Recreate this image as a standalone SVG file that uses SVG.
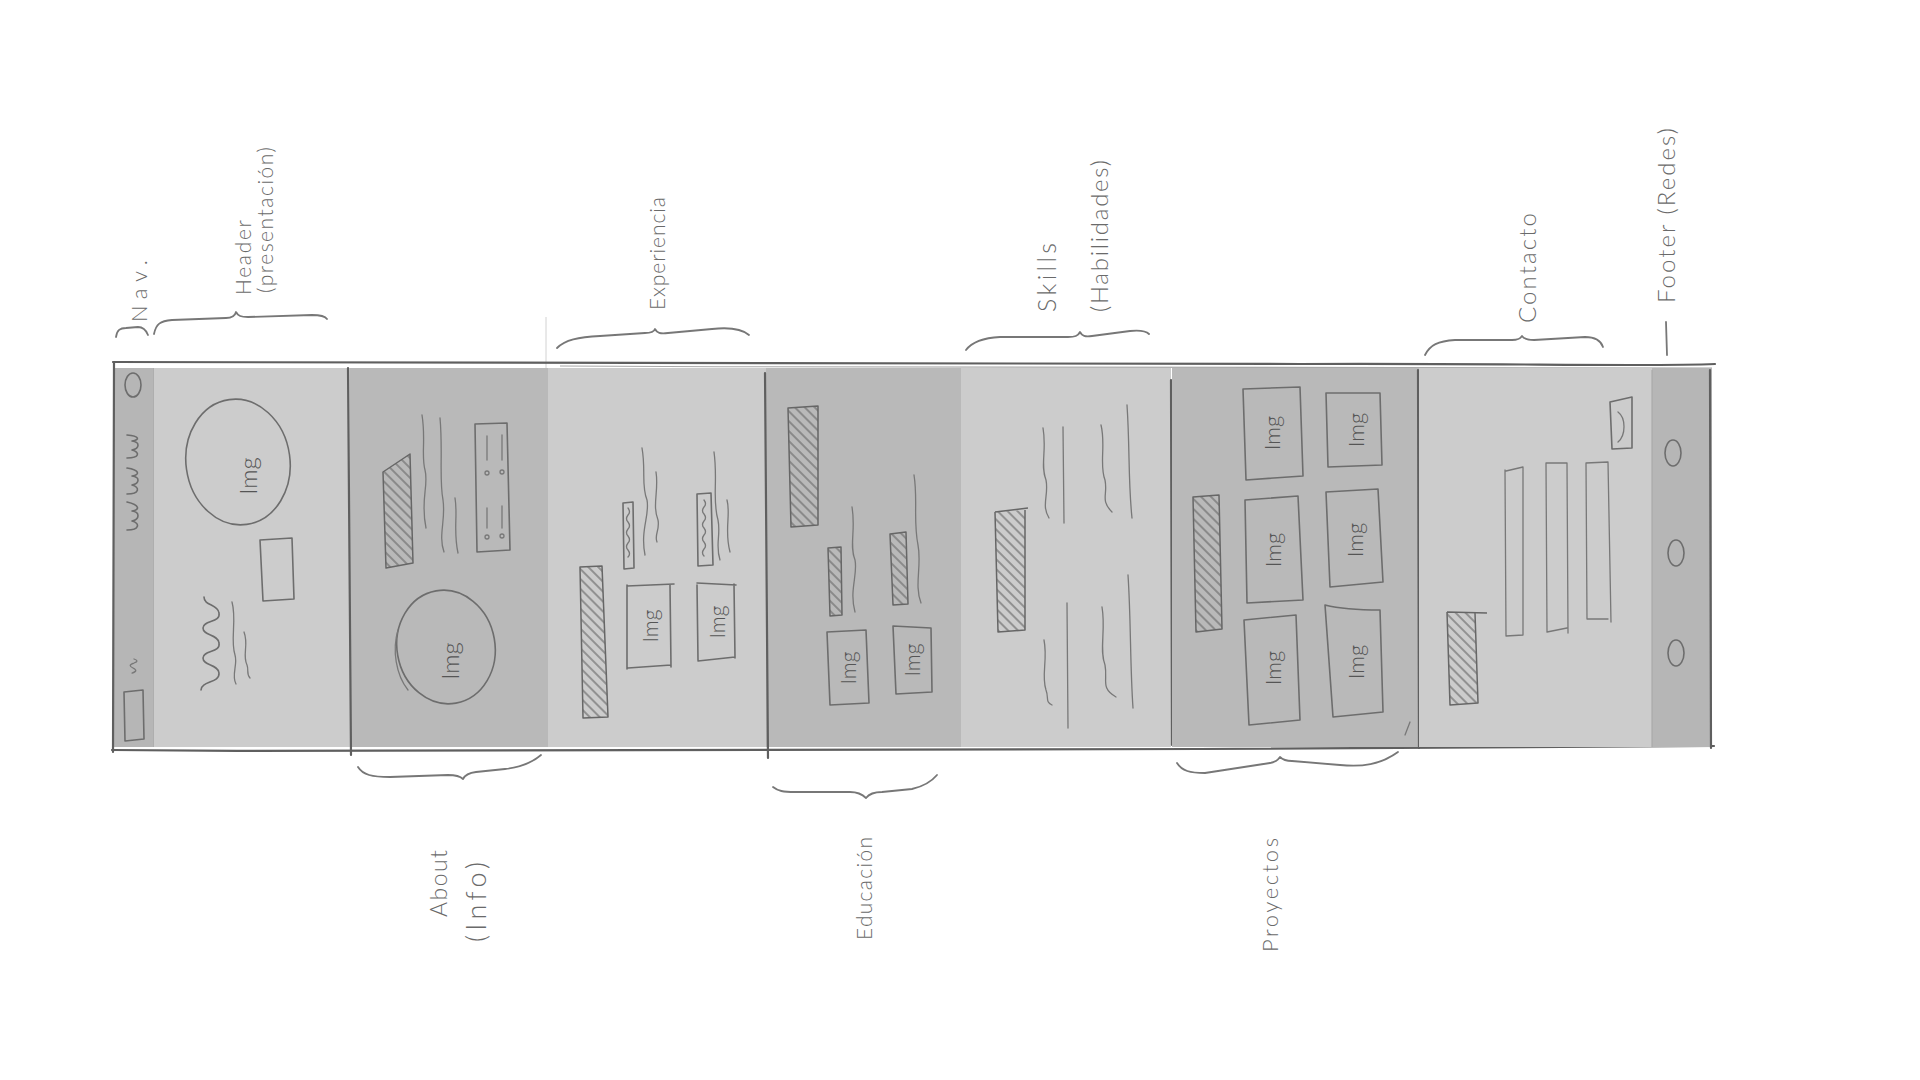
<svg xmlns="http://www.w3.org/2000/svg" width="1920" height="1080" viewBox="0 0 1920 1080">
<defs>
<pattern id="hatch" patternUnits="userSpaceOnUse" width="7" height="7" patternTransform="rotate(-45)">
<line x1="1" y1="0" x2="1" y2="7" stroke="#6a6a6a" stroke-width="1.2"/>
</pattern>
<style>
.lt{fill:#cccccc}
.dk{fill:#b9b9b9}
.ink{fill:none;stroke:#6d6d6d;stroke-width:1.6;stroke-linecap:round;stroke-linejoin:round}
.fine{fill:none;stroke:#787878;stroke-width:1.3;stroke-linecap:round;stroke-linejoin:round}
.edge{fill:none;stroke:#5f5f5f;stroke-width:2.2;stroke-linecap:round}
.faint{fill:none;stroke:#a8a8a8;stroke-width:1.1}
.hat{fill:url(#hatch);stroke:#666;stroke-width:1.5;stroke-linejoin:round}
.brace{fill:none;stroke:#777;stroke-width:1.8;stroke-linecap:round;stroke-linejoin:round}
.lbl{font-family:Lato,'Open Sans','Liberation Sans',sans-serif;font-weight:300;fill:#6a6a6a}
.img{font-family:Lato,'Open Sans','Liberation Sans',sans-serif;font-weight:300;fill:#555;text-anchor:middle}
</style>
</defs>
<rect width="1920" height="1080" fill="#ffffff"/>

<g id="strip-frame">
<path d="M546,317 L546,373" fill="none" stroke="#d2d2d2" stroke-width="1"/>
<path class="edge" d="M113,362 C600,360 1000,366 1300,364 C1500,363 1650,367 1715,364"/>
<path class="faint" d="M560,366 C900,368 1200,366 1712,368"/>
<path class="edge" d="M112,750 C500,753 900,752 1200,749 C1450,747 1600,747 1714,746"/>
</g>

<g id="nav">
<rect class="dk" x="114" y="368" width="40" height="379" style="fill:#b6b6b6"/>
<ellipse class="ink" cx="133" cy="385" rx="8" ry="12"/>
<path class="ink" d="M127,458 C140,458 140,452 132,450 C140,448 140,442 132,441 C140,440 140,436 127,435"/>
<path class="ink" d="M127,494 C140,494 140,487 132,485 C140,483 140,477 132,476 C140,475 140,470 127,468"/>
<path class="ink" d="M127,530 C140,530 140,523 132,521 C140,519 140,512 132,511 C140,510 140,505 127,502"/>
<path class="fine" d="M132,673 q7,-2 1,-5 q-6,-3 1,-5 q6,-2 0,-4"/>
<path class="ink" d="M124,692 L143,690 L144,739 L125,741 Z"/>
<path class="edge" d="M114,362 L113,752"/>
<path class="faint" d="M154,368 L154,747"/>
<text class="lbl" font-size="22" transform="translate(147,322) rotate(-90)" textLength="62" lengthAdjust="spacing">Nav.</text>
</g>

<g id="header">
<rect class="lt" x="154" y="368" width="196" height="379"/>
<ellipse class="ink" cx="238" cy="462" rx="52" ry="63" transform="rotate(-8 238 462)"/>
<text class="img" font-size="24" transform="translate(257,476) rotate(-90)">Img</text>
<path class="ink" d="M260,540 L292,538 L294,599 L263,601 Z"/>
<path class="ink" d="M201,690 C201,681 220,683 219,673 C218,664 203,666 203,658 C203,650 221,653 219,643 C218,634 203,636 203,628 C203,620 221,623 219,613 C218,604 204,606 204,597"/>
<path class="fine" d="M232,602 C237,620 230,640 235,655 C238,665 231,675 236,684"/>
<path class="fine" d="M244,632 C249,645 242,655 247,665 C249,670 246,674 250,678"/>
<text class="lbl" font-size="21" transform="translate(251,295) rotate(-90)" textLength="75" lengthAdjust="spacing">Header</text>
<text class="lbl" font-size="21" transform="translate(273,293) rotate(-90)" textLength="146" lengthAdjust="spacing">(presentación)</text>
</g>

<g id="about">
<rect class="dk" x="350" y="368" width="198" height="379"/>
<path class="edge" d="M348,368 L351,755"/>
<path class="hat" d="M383,472 L410,454 L413,563 L386,568 Z"/>
<path class="fine" d="M422,415 C426,440 421,455 425,470 C429,485 420,500 426,528"/>
<path class="fine" d="M440,418 C443,450 439,480 443,500 C446,520 438,535 444,552"/>
<path class="fine" d="M455,498 C458,515 453,530 458,553"/>
<path class="ink" d="M475,424 L507,423 L510,550 L477,552 Z"/>
<path class="fine" d="M487,436 L487,460 M502,435 L502,460 M487,508 L487,528 M502,506 L502,528"/>
<circle cx="487" cy="473" r="2" class="fine"/><circle cx="502" cy="472" r="2" class="fine"/>
<circle cx="487" cy="537" r="2" class="fine"/><circle cx="502" cy="536" r="2" class="fine"/>
<ellipse class="ink" cx="446" cy="647" rx="49" ry="57" transform="rotate(-10 446 647)"/>
<path class="fine" d="M398,630 C392,650 396,675 408,690"/>
<text class="img" font-size="24" transform="translate(459,661) rotate(-90)">Img</text>
<text class="lbl" font-size="23" transform="translate(447,917) rotate(-90)" textLength="67" lengthAdjust="spacing">About</text>
<text class="lbl" font-size="27" transform="translate(486,942) rotate(-90)" textLength="80" lengthAdjust="spacing">(Info)</text>
</g>

<g id="experiencia">
<rect class="lt" x="548" y="368" width="218" height="379"/>
<path class="hat" d="M580,567 L602,566 L608,717 L583,718 Z"/>
<path class="ink" d="M623,503 L633,502 L634,568 L624,569 Z"/>
<path class="fine" d="M628,508 q3,4 0,7 q-3,4 0,7 q3,4 0,7 q-3,4 0,7 q3,4 0,7 q-3,4 0,7 q3,4 0,7"/>
<path class="fine" d="M642,448 C646,470 641,485 647,500 C650,515 640,530 645,555"/>
<path class="fine" d="M656,472 C659,490 652,505 658,520 C660,530 654,535 657,542"/>
<path class="ink" d="M627,586 L674,584 M670,585 L671,667 M671,665 L628,668 M627,669 L627,585"/>
<text class="img" font-size="21" transform="translate(658,626) rotate(-90)">Img</text>
<path class="ink" d="M697,494 L711,493 L713,565 L698,566 Z"/>
<path class="fine" d="M704,500 q3,4 0,7 q-3,4 0,7 q3,4 0,7 q-3,4 0,7 q3,4 0,7 q-3,4 0,7 q3,4 0,7 q-3,4 0,7"/>
<path class="fine" d="M714,452 C718,480 712,500 718,520 C721,535 715,545 720,560"/>
<path class="fine" d="M727,500 C731,515 724,530 730,552"/>
<path class="ink" d="M697,583 L736,585 M734,584 L735,658 M735,657 L698,661 M698,660 L697,585"/>
<text class="img" font-size="21" transform="translate(725,622) rotate(-90)">Img</text>
<text class="lbl" font-size="21" transform="translate(665,310) rotate(-90)" textLength="113" lengthAdjust="spacing">Experiencia</text>
</g>

<g id="educacion">
<rect class="dk" x="766" y="368" width="195" height="379"/>
<path class="edge" d="M765,373 L768,758"/>
<path class="hat" d="M788,408 L818,406 L818,525 L791,527 Z"/>
<path class="hat" d="M828,548 L841,547 L842,615 L830,616 Z"/>
<path class="fine" d="M852,507 C856,530 849,545 855,560 C858,575 849,590 855,612"/>
<path class="hat" d="M890,534 L906,532 L908,604 L893,605 Z"/>
<path class="fine" d="M914,475 C918,500 913,520 918,545 C922,565 914,585 921,603"/>
<path class="ink" d="M827,632 L866,630 L869,703 L830,705 Z"/>
<text class="img" font-size="21" transform="translate(856,668) rotate(-90)">Img</text>
<path class="ink" d="M893,626 L931,628 L932,692 L896,694 Z"/>
<text class="img" font-size="21" transform="translate(920,660) rotate(-90)">Img</text>
<text class="lbl" font-size="21" transform="translate(872,940) rotate(-90)" textLength="103" lengthAdjust="spacing">Educación</text>
</g>

<g id="skills">
<rect class="lt" x="961" y="368" width="210" height="379"/>
<path class="hat" d="M995,512 L1028,508 M1025,510 L1025,630 L998,632 L995,512"/>
<path class="fine" d="M1043,428 C1047,450 1040,465 1046,480 C1049,495 1041,505 1049,518"/>
<path class="fine" d="M1063,427 L1064,523"/>
<path class="fine" d="M1101,425 C1106,445 1099,465 1105,480 C1108,495 1100,500 1112,512"/>
<path class="fine" d="M1127,405 C1130,450 1128,480 1132,518"/>
<path class="fine" d="M1044,640 C1048,660 1041,675 1046,690 C1049,698 1045,702 1052,705"/>
<path class="fine" d="M1067,603 L1068,728"/>
<path class="fine" d="M1102,607 C1106,630 1099,650 1105,665 C1108,680 1100,688 1116,697"/>
<path class="fine" d="M1128,575 C1131,620 1130,665 1133,708"/>
<path class="edge" d="M1171,380 L1172,745"/>
<text class="lbl" font-size="25" transform="translate(1056,312) rotate(-90)" textLength="69" lengthAdjust="spacing">Skills</text>
<text class="lbl" font-size="24" transform="translate(1108,312) rotate(-90)" textLength="152" lengthAdjust="spacing">(Habilidades)</text>
</g>

<g id="proyectos">
<rect class="dk" x="1172" y="368" width="247" height="379"/>
<path class="hat" d="M1193,497 L1219,495 L1222,629 L1196,632 Z"/>
<path class="ink" d="M1243,389 L1300,387 L1303,476 L1246,480 Z"/>
<text class="img" font-size="22" transform="translate(1280,433) rotate(-90)">Img</text>
<path class="ink" d="M1245,500 L1298,496 L1303,600 L1247,603 Z"/>
<text class="img" font-size="22" transform="translate(1281,550) rotate(-90)">Img</text>
<path class="ink" d="M1244,620 L1296,615 L1300,720 L1249,725 Z"/>
<text class="img" font-size="22" transform="translate(1281,668) rotate(-90)">Img</text>
<path class="ink" d="M1326,393 L1380,393 L1382,465 L1328,467 Z"/>
<text class="img" font-size="22" transform="translate(1364,430) rotate(-90)">Img</text>
<path class="ink" d="M1326,492 L1378,489 L1383,582 L1330,587 Z"/>
<text class="img" font-size="22" transform="translate(1363,540) rotate(-90)">Img</text>
<path class="ink" d="M1325,605 C1345,610 1365,610 1380,610 L1383,712 L1333,717 Z"/>
<text class="img" font-size="22" transform="translate(1364,662) rotate(-90)">Img</text>
<path class="fine" d="M1410,722 L1405,735"/>
<path class="edge" d="M1418,370 L1419,748"/>
<text class="lbl" font-size="22" transform="translate(1278,952) rotate(-90)" textLength="114" lengthAdjust="spacing">Proyectos</text>
</g>

<g id="contacto">
<rect class="lt" x="1419" y="368" width="233" height="379"/>
<path class="ink" d="M1610,402 L1632,397 L1632,448 L1612,449 Z"/>
<path class="fine" d="M1618,412 C1626,418 1626,435 1618,442"/>
<path class="fine" d="M1506,471 L1523,467 M1523,467 L1523,635 L1506,636 L1505,470"/>
<path class="fine" d="M1546,463 L1567,463 L1568,633 M1567,628 L1547,632 L1546,463"/>
<path class="fine" d="M1586,463 L1608,462 L1611,622 M1608,619 L1587,619 L1586,463"/>
<path class="hat" d="M1447,612 L1487,613 M1475,613 L1478,703 L1450,705 L1447,612"/>
<text class="lbl" font-size="24" transform="translate(1536,323) rotate(-90)" textLength="110" lengthAdjust="spacing">Contacto</text>
</g>

<g id="footer">
<rect class="dk" x="1652" y="368" width="60" height="379" style="fill:#b6b6b6"/>
<path class="faint" d="M1652,370 L1652,747"/>
<ellipse class="ink" cx="1673" cy="453" rx="8" ry="13"/>
<ellipse class="ink" cx="1676" cy="553" rx="8" ry="13"/>
<ellipse class="ink" cx="1676" cy="653" rx="8" ry="13"/>
<path class="edge" d="M1710,370 L1711,748"/>
<text class="lbl" font-size="24" transform="translate(1675,303) rotate(-90)" textLength="175" lengthAdjust="spacing">Footer (Redes)</text>
</g>

<g id="connectors">
<path class="brace" d="M116,337 C117,330 120,328 126,328 L138,327 C143,327 146,330 148,335"/>
<path class="brace" d="M154,334 C156,324 160,321 172,320 L226,318 C232,318 235,316 236,312 C238,316 241,317 248,317 L312,315 C320,315 325,316 327,319"/>
<path class="brace" d="M557,348 C565,340 578,337 600,336 L645,333 C651,333 654,332 655,329 C657,333 660,334 668,333 L712,329 C730,327 742,329 749,335"/>
<path class="brace" d="M966,350 C972,342 982,338 1000,337 L1068,337 C1075,337 1078,336 1080,332 C1082,336 1085,337 1092,336 L1130,331 C1140,330 1146,331 1149,334"/>
<path class="brace" d="M1425,355 C1430,345 1438,341 1455,340 L1512,340 C1518,340 1520,339 1522,336 C1524,339 1527,340 1534,340 L1585,337 C1596,337 1601,341 1603,347"/>
<path class="brace" d="M1666,322 L1667,355"/>
<path class="brace" d="M358,767 C363,775 372,777 390,777 L448,775 C456,775 460,776 463,779 C465,775 468,773 476,772 L505,769 C522,767 533,762 541,755"/>
<path class="brace" d="M773,787 C778,791 783,792 795,792 L850,792 C858,792 862,794 866,798 C869,794 873,792 882,792 L912,789 C925,786 932,781 937,775"/>
<path class="brace" d="M1177,763 C1182,771 1190,773 1205,773 L1270,763 C1276,762 1278,760 1280,757 C1283,760 1286,761 1292,761 L1340,765 C1362,767 1380,765 1398,752"/>
</g>
</svg>
